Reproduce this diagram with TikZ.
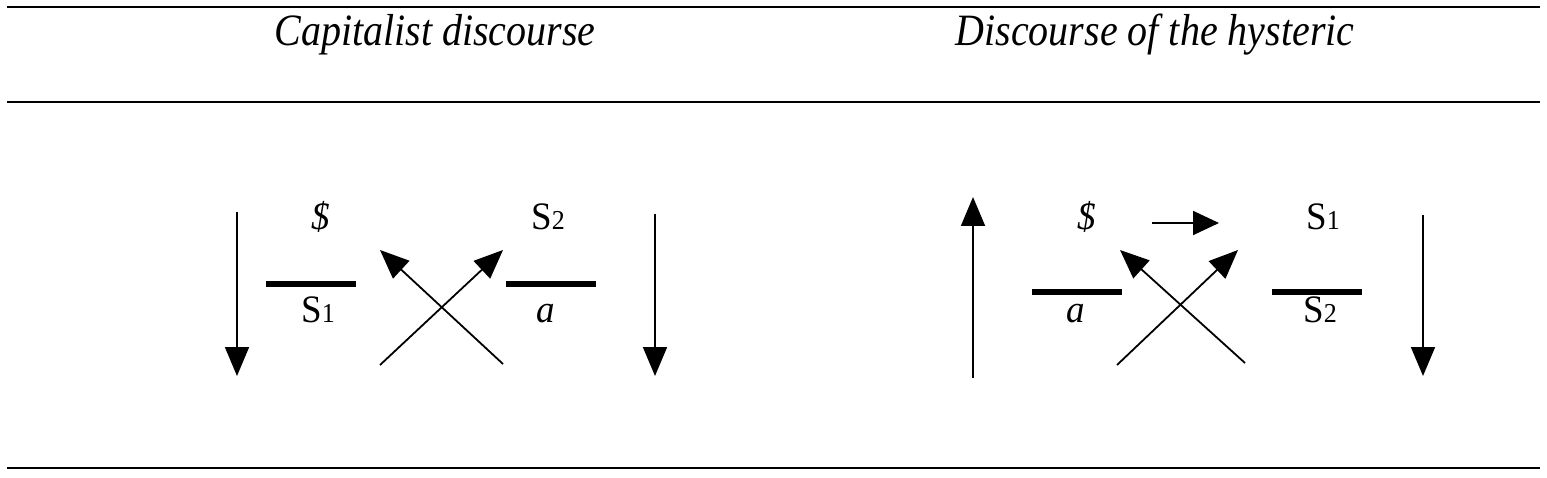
\documentclass[tikz,border=0pt]{standalone}
\usepackage{fontspec}
\setmainfont{Liberation Serif}
\usetikzlibrary{arrows.meta}
\tikzset{
  rule/.style={line width=2.6pt, black},
  bar/.style={line width=6pt, black},
  arr/.style={line width=1.8pt, -{Triangle[width=24pt,length=29pt]}},
  sarr/.style={line width=1.8pt, -{Triangle[width=24pt,length=26pt]}},
  title/.style={font=\fontsize{40}{42}\selectfont\itshape, anchor=base, inner sep=0pt, yscale=1.12},
  sym/.style={font=\fontsize{37}{40}\selectfont, anchor=base, inner sep=0pt, yscale=1.05},
}
\newcommand{\sub}[1]{{\fontsize{26}{28}\selectfont #1}}
\begin{document}
\begin{tikzpicture}[x=1pt,y=-1pt]
\useasboundingbox (0,0) rectangle (1547,478);
% rules
\coordinate (r1a) at (7,7); \coordinate (r1b) at (1540,7);
\coordinate (r2a) at (7,102); \coordinate (r2b) at (1540,102);
\coordinate (r3a) at (7,468); \coordinate (r3b) at (1540,468);
\draw[rule] (r1a) -- (r1b);
\draw[rule] (r2a) -- (r2b);
\draw[rule] (r3a) -- (r3b);
% titles
\node[title] (t1) at (435,46) {Capitalist discourse};
\node[title] (t2) at (1155,46) {Discourse of the hysteric};

% ---------- left diagram ----------
\coordinate (l1s) at (237,212); \coordinate (l1e) at (237,376);
\draw[arr] (l1s) -- (l1e);
\node[sym] (ls) at (321,230) {\textit{\$}};
\coordinate (lb1a) at (266,284); \coordinate (lb1b) at (356,284);
\draw[bar] (lb1a) -- (lb1b);
\node[sym] (lS1) at (318,322) {S\sub{1}};
\coordinate (lc1s) at (380,365); \coordinate (lc1e) at (503,250);
\coordinate (lc2s) at (503,364); \coordinate (lc2e) at (380,250);
\draw[arr] (lc1s) -- (lc1e);
\draw[arr] (lc2s) -- (lc2e);
\node[sym] (lS2) at (548,230) {S\sub{2}};
\coordinate (lb2a) at (506,284); \coordinate (lb2b) at (596,284);
\draw[bar] (lb2a) -- (lb2b);
\node[sym] (la) at (546,322) {\textit{a}};
\coordinate (l2s) at (655,214); \coordinate (l2e) at (655,376);
\draw[arr] (l2s) -- (l2e);

% ---------- right diagram ----------
\coordinate (r1s) at (973,378); \coordinate (r1e) at (973,197);
\draw[arr] (r1s) -- (r1e);
\node[sym] (rs) at (1087,230) {\textit{\$}};
\coordinate (rhs) at (1152,223); \coordinate (rhe) at (1219,223);
\draw[sarr] (rhs) -- (rhe);
\node[sym] (rS1) at (1323,230) {S\sub{1}};
\coordinate (rb1a) at (1032,292); \coordinate (rb1b) at (1122,292);
\draw[bar] (rb1a) -- (rb1b);
\node[sym] (ra) at (1076,322) {\textit{a}};
\coordinate (rc1s) at (1117,365); \coordinate (rc1e) at (1238,250);
\coordinate (rc2s) at (1245,363); \coordinate (rc2e) at (1120,250);
\draw[arr] (rc1s) -- (rc1e);
\draw[arr] (rc2s) -- (rc2e);
\coordinate (rb2a) at (1272,292); \coordinate (rb2b) at (1362,292);
\draw[bar] (rb2a) -- (rb2b);
\node[sym] (rS2) at (1320,322) {S\sub{2}};
\coordinate (r2s) at (1423,215); \coordinate (r2e) at (1423,376);
\draw[arr] (r2s) -- (r2e);
\end{tikzpicture}
\end{document}
